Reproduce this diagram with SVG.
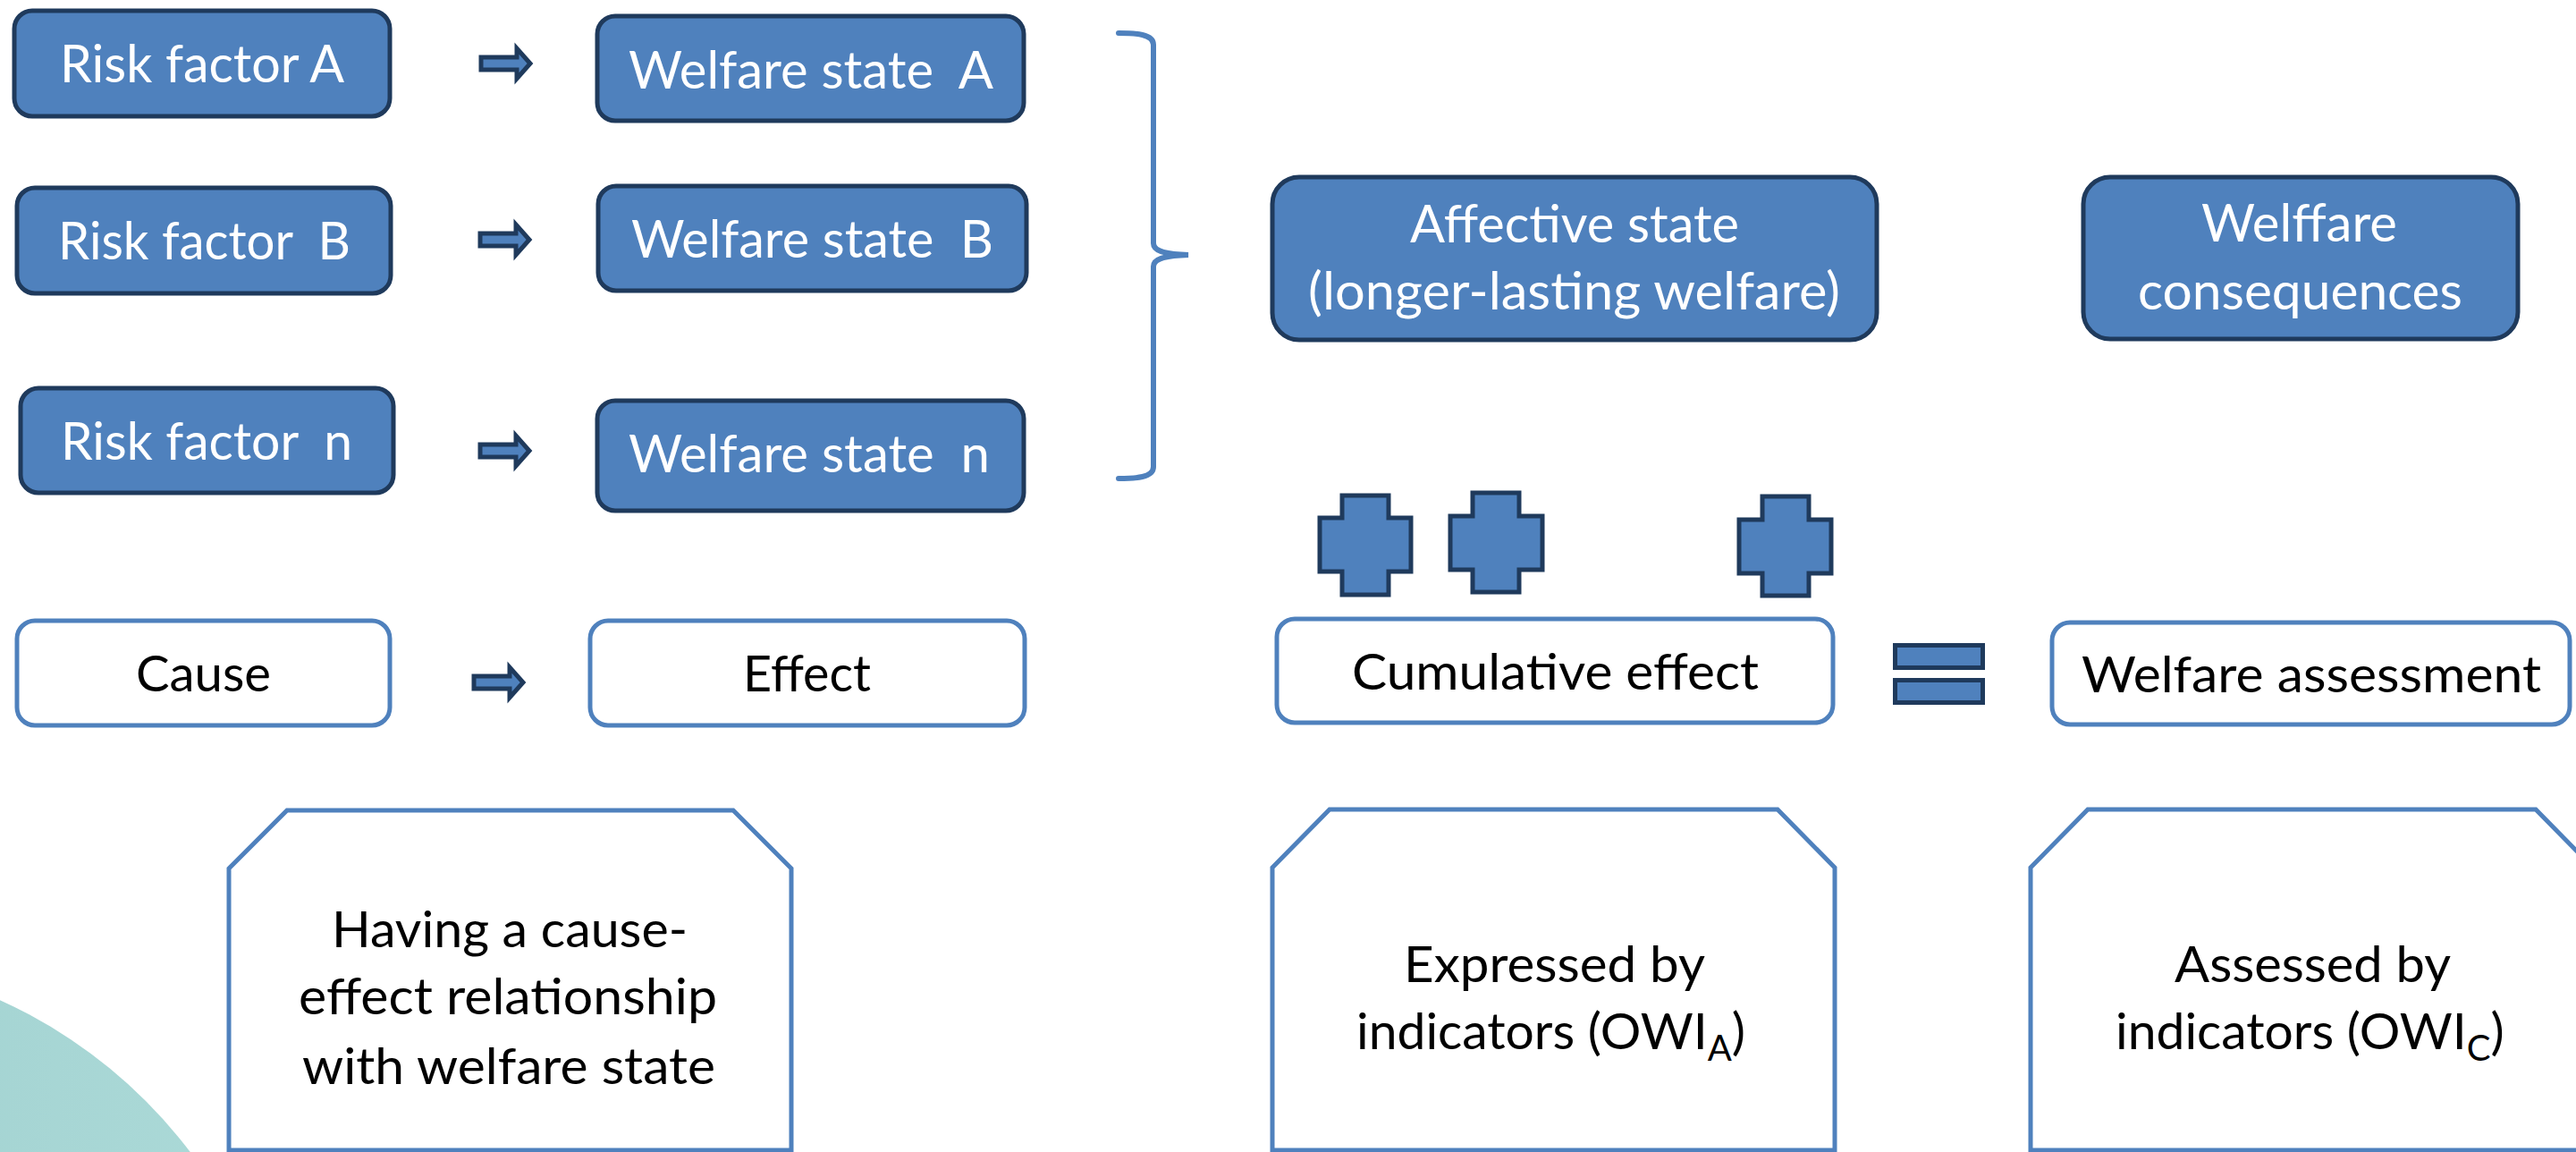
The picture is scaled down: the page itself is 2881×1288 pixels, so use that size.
<svg xmlns="http://www.w3.org/2000/svg" width="2881" height="1288" viewBox="0 0 2881 1288">
<defs>
<style>
.bn{fill:#4F81BD;stroke:#1F3A5C;stroke-width:5}
.wn{fill:#FFFFFF;stroke:#4F81BD;stroke-width:5}
.oc{fill:#FFFFFF;stroke:#4F81BD;stroke-width:5;stroke-linejoin:miter}
.tw{font-family:Lato,"Liberation Sans",sans-serif;font-size:58px;fill:#FFFFFF;white-space:pre}
.tb{font-family:Lato,"Liberation Sans",sans-serif;font-size:57px;fill:#000000;white-space:pre}
.arr{fill:#4F81BD;stroke:#1F3A5C;stroke-width:5;stroke-linejoin:miter}
.brace{fill:none;stroke:#4F81BD;stroke-width:6;stroke-linecap:round}
</style>
<linearGradient id="teal" x1="0" y1="0" x2="1" y2="0">
<stop offset="0" stop-color="#97C9C9"/>
<stop offset="1" stop-color="#ACDAD8"/>
</linearGradient>
<path id="arrowShape" d="M2,-7 H42 V-17 L57,0 L42,17 V7 H2 Z"/>
</defs>
<rect width="2881" height="1288" fill="#FFFFFF"/>
<circle cx="-228" cy="1622" r="553" fill="url(#teal)"/>

<g id="risk-a"><rect class="bn" x="16" y="12" width="420" height="118" rx="20"/><text class="tw" x="67" y="92" textLength="318" lengthAdjust="spacingAndGlyphs">Risk factor A</text></g>
<g id="welfare-a"><rect class="bn" x="668" y="18" width="477" height="117" rx="20"/><text class="tw" x="703" y="99" textLength="408" lengthAdjust="spacingAndGlyphs">Welfare state  A</text></g>
<g id="risk-b"><rect class="bn" x="19" y="210" width="418" height="118" rx="20"/><text class="tw" x="65" y="290" textLength="327" lengthAdjust="spacingAndGlyphs">Risk factor  B</text></g>
<g id="welfare-b"><rect class="bn" x="669" y="208" width="479" height="117" rx="20"/><text class="tw" x="706" y="288" textLength="405" lengthAdjust="spacingAndGlyphs">Welfare state  B</text></g>
<g id="risk-n"><rect class="bn" x="23" y="434" width="417" height="117" rx="20"/><text class="tw" x="68" y="514" textLength="326" lengthAdjust="spacingAndGlyphs">Risk factor  n</text></g>
<g id="welfare-n"><rect class="bn" x="668" y="448" width="477" height="123" rx="20"/><text class="tw" x="703" y="528" textLength="404" lengthAdjust="spacingAndGlyphs">Welfare state  n</text></g>

<g id="affective-state"><rect class="bn" x="1423" y="198" width="676" height="182" rx="30"/>
<text class="tw" x="1577" y="271" textLength="368" lengthAdjust="spacingAndGlyphs">Affective state</text>
<text class="tw" x="1463" y="346" textLength="595" lengthAdjust="spacingAndGlyphs">(longer-lasting welfare)</text></g>
<g id="welfare-consequences"><rect class="bn" x="2330" y="198" width="486" height="181" rx="30"/>
<text class="tw" x="2462" y="270" textLength="219" lengthAdjust="spacingAndGlyphs">Welffare</text>
<text class="tw" x="2391" y="346" textLength="363" lengthAdjust="spacingAndGlyphs">consequences</text></g>

<g id="cause"><rect class="wn" x="19" y="694" width="417" height="117" rx="20"/><text class="tb" x="152" y="773" textLength="151" lengthAdjust="spacingAndGlyphs">Cause</text></g>
<g id="effect"><rect class="wn" x="660" y="694" width="486" height="117" rx="20"/><text class="tb" x="831" y="773" textLength="143" lengthAdjust="spacingAndGlyphs">Effect</text></g>
<g id="cumulative-effect"><rect class="wn" x="1428" y="692" width="622" height="116" rx="20"/><text class="tb" x="1512" y="771" textLength="455" lengthAdjust="spacingAndGlyphs">Cumulative effect</text></g>
<g id="welfare-assessment"><rect class="wn" x="2295" y="696" width="579" height="114" rx="20"/><text class="tb" x="2328" y="774" textLength="514" lengthAdjust="spacingAndGlyphs">Welfare assessment</text></g>

<g id="plus-1"><path class="arr" d="M1501,554 H1553 V579 H1578 V639 H1553 V665 H1501 V639 H1476 V579 H1501 Z"/></g>
<g id="plus-2"><path class="arr" d="M1647,551 H1699 V577 H1725 V637 H1699 V662 H1647 V637 H1622 V577 H1647 Z"/></g>
<g id="plus-3"><path class="arr" d="M1971,555 H2023 V581 H2048 V641 H2023 V666 H1971 V641 H1945 V581 H1971 Z"/></g>
<g id="equals"><rect class="arr" x="2119.5" y="721.5" width="98" height="25"/><rect class="arr" x="2119.5" y="760.5" width="98" height="25"/></g>

<g id="note-cause-effect"><path class="oc" d="M321,906 L820,906 L885,971 L885,1286 L256,1286 L256,971 Z"/>
<text class="tb" x="371" y="1059" textLength="398" lengthAdjust="spacingAndGlyphs">Having a cause-</text>
<text class="tb" x="334" y="1134" textLength="468" lengthAdjust="spacingAndGlyphs">effect relationship</text>
<text class="tb" x="338" y="1212" textLength="462" lengthAdjust="spacingAndGlyphs">with welfare state</text></g>
<g id="note-expressed"><path class="oc" d="M1487,905 L1988,905 L2052,970 L2052,1286 L1423,1286 L1423,970 Z"/>
<text class="tb" x="1570" y="1098" textLength="337" lengthAdjust="spacingAndGlyphs">Expressed by</text>
<text class="tb" x="1517" y="1173">indicators (OWI<tspan font-size="40" dy="13">A</tspan><tspan dy="-13">)</tspan></text></g>
<g id="note-assessed"><path class="oc" d="M2335,905 L2836,905 L2900,970 L2900,1286 L2271,1286 L2271,970 Z"/>
<text class="tb" x="2432" y="1098" textLength="309" lengthAdjust="spacingAndGlyphs">Assessed by</text>
<text class="tb" x="2366" y="1173">indicators (OWI<tspan font-size="40" dy="13">C</tspan><tspan dy="-13">)</tspan></text></g>

<g id="connectors">
<use href="#arrowShape" class="arr" transform="translate(536,71)"/>
<use href="#arrowShape" class="arr" transform="translate(535,268)"/>
<use href="#arrowShape" class="arr" transform="translate(535,504)"/>
<use href="#arrowShape" class="arr" transform="translate(528,763)"/>
<path class="brace" d="M1251,37 C1270,37 1290,38 1290,50 L1290,272 C1290,280 1300,284 1329,285 C1300,286 1290,290 1290,298 L1290,522 C1290,534 1270,535 1251,535"/>
</g>
</svg>
